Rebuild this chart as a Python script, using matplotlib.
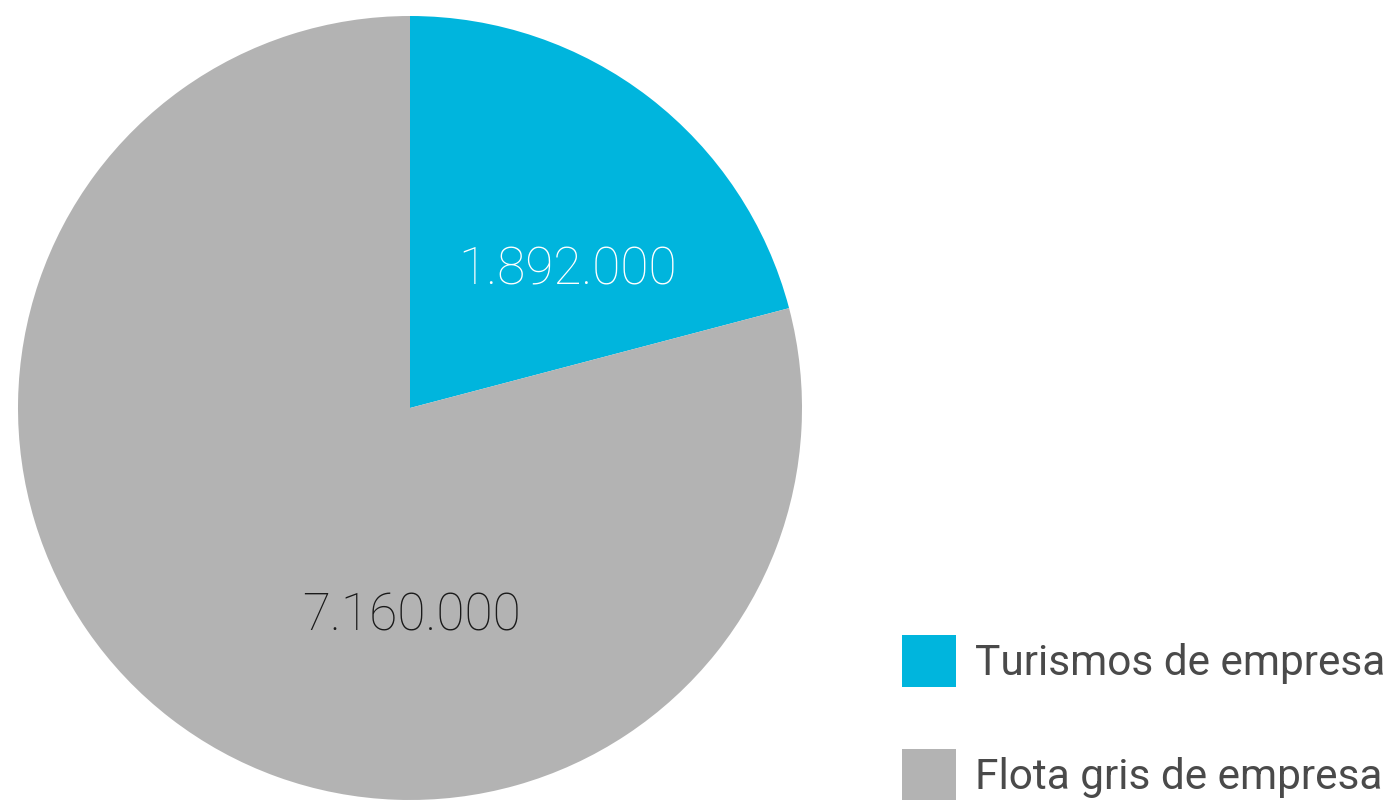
import matplotlib
matplotlib.use("Agg")
import matplotlib.pyplot as plt

labels = ["Turismos de empresa", "Flota gris de empresa"]
values = [1892000, 7160000]
value_text = ["1.892.000", "7.160.000"]
colors = ["#00B5DD", "#B3B3B3"]
text_colors = ["white", "#1a1a1a"]
text_pos = [(0.403, 0.352), (0.005, -0.533)]

fig = plt.figure(figsize=(13.94, 8), dpi=100)
ax = fig.add_axes([18 / 1394, 0.0, 784 / 1394, 784 / 800])

wedges, _ = ax.pie(values, colors=colors, startangle=90, counterclock=False,
                   radius=1.0, wedgeprops=dict(linewidth=0))
ax.set_xlim(-1, 1)
ax.set_ylim(-1, 1)

for t, c, (x, y) in zip(value_text, text_colors, text_pos):
    ax.text(x, y, t, ha="center", va="center", fontsize=37, color=c,
            family="Roboto", fontweight="light")

fig.legend(wedges, labels, loc="upper left", bbox_to_anchor=(864 / 1394, 1 - 597 / 800),
           frameon=False, handlelength=1.27, handleheight=1.52,
           handletextpad=0.45, labelspacing=1.45, labelcolor="#4a4a4a",
           prop=dict(family="Roboto", size=30.5))

fig.savefig("out.png", dpi=100, facecolor="white")
